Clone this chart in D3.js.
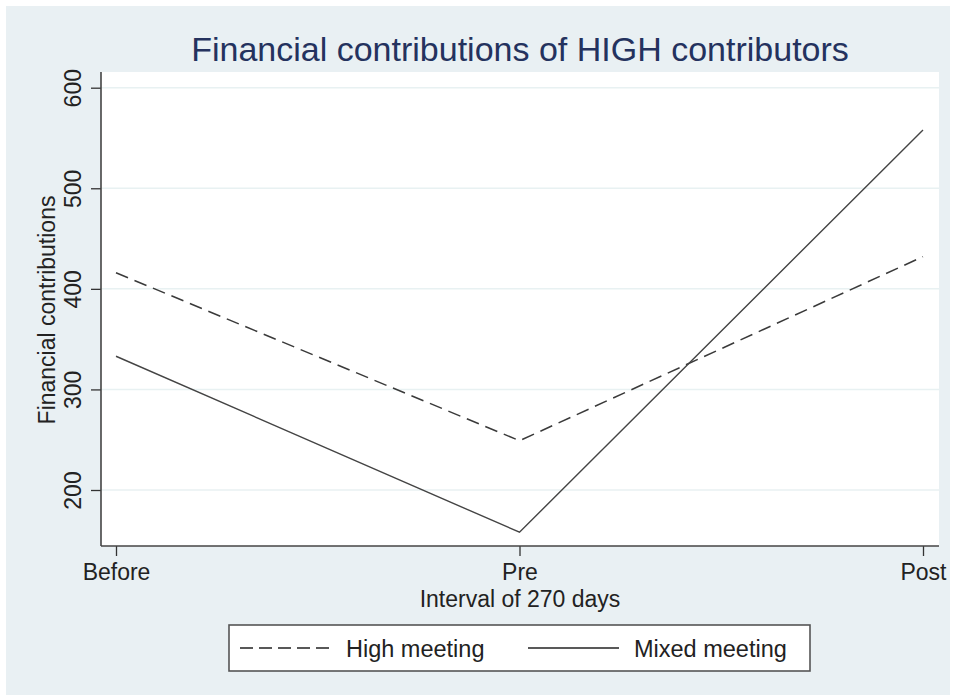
<!DOCTYPE html>
<html>
<head>
<meta charset="utf-8">
<script src="https://cdn.jsdelivr.net/npm/d3@7"></script>
<style>
  body { margin: 0; background: #fff; }
  text { font-family: "Liberation Sans", Arial, sans-serif; }
</style>
</head>
<body>
<div id="chart"></div>
<script>
// data
let periods = ["Before", "Pre", "Post"];
let highMeeting = [416, 249, 432];
let mixedMeeting = [333, 158, 558];
let yTicks = [200, 300, 400, 500, 600];

let W = 957, H = 697;
let svg = d3.select("#chart").append("svg")
  .attr("width", W).attr("height", H);

// outer background
svg.append("rect")
  .attr("x", 6).attr("y", 6).attr("width", 944).attr("height", 689)
  .attr("fill", "#e9f0f3");

// plot area
let plotLeft = 101, plotRight = 939, plotTop = 72, plotBottom = 546;
svg.append("rect")
  .attr("x", plotLeft).attr("y", plotTop)
  .attr("width", plotRight - plotLeft).attr("height", plotBottom - plotTop)
  .attr("fill", "#fff");

let xScale = d3.scalePoint().domain(periods).range([116, 923]);
let yScale = d3.scaleLinear().domain([200, 600]).range([490, 87.7]);

// gridlines
svg.append("g")
  .selectAll("line")
  .data(yTicks)
  .enter()
  .append("line")
  .attr("x1", plotLeft).attr("x2", plotRight)
  .attr("y1", d => yScale(d)).attr("y2", d => yScale(d))
  .attr("stroke", "#e8f1f2").attr("stroke-width", 1.5);

// y axis, labels rotated like the original
let yAxis = d3.axisLeft(yScale).tickValues(yTicks).tickSize(10);
let gy = svg.append("g").attr("transform", `translate(${plotLeft},0)`).call(yAxis);
gy.select(".domain").remove();
gy.selectAll(".tick line").attr("stroke", "#333").attr("stroke-width", 1.3);
gy.selectAll(".tick text")
  .attr("font-size", 23).attr("fill", "#222")
  .attr("transform", "rotate(-90)")
  .attr("x", 0).attr("y", -20).attr("dy", 0)
  .attr("text-anchor", "middle");

svg.append("line")
  .attr("x1", plotLeft).attr("x2", plotLeft).attr("y1", plotTop).attr("y2", plotBottom)
  .attr("stroke", "#444").attr("stroke-width", 1.6);

// x axis
let xAxis = d3.axisBottom(xScale).tickSize(10).tickPadding(6);
let gx = svg.append("g").attr("transform", `translate(0,${plotBottom})`).call(xAxis);
gx.select(".domain").remove();
gx.selectAll(".tick line").attr("stroke", "#333").attr("stroke-width", 1.3);
gx.selectAll(".tick text").attr("font-size", 23).attr("fill", "#222")
  .attr("dy", 0).attr("y", 34);

svg.append("line")
  .attr("x1", plotLeft).attr("x2", plotRight).attr("y1", plotBottom).attr("y2", plotBottom)
  .attr("stroke", "#444").attr("stroke-width", 1.6);

// lines
let line = d3.line()
  .x((d, i) => xScale(periods[i]))
  .y(d => yScale(d));

svg.append("path")
  .datum(highMeeting)
  .attr("d", line)
  .attr("fill", "none")
  .attr("stroke", "#3a3a3a").attr("stroke-width", 1.5)
  .attr("stroke-dasharray", "13,7");

svg.append("path")
  .datum(mixedMeeting)
  .attr("d", line)
  .attr("fill", "none")
  .attr("stroke", "#444").attr("stroke-width", 1.4);

// title and axis labels
svg.append("text")
  .attr("x", 520).attr("y", 61)
  .attr("text-anchor", "middle")
  .attr("font-size", 34).attr("fill", "#24325e")
  .text("Financial contributions of HIGH contributors");

svg.append("text")
  .attr("transform", "translate(55,310) rotate(-90)")
  .attr("text-anchor", "middle")
  .attr("font-size", 23).attr("fill", "#222")
  .text("Financial contributions");

svg.append("text")
  .attr("x", 520).attr("y", 607)
  .attr("text-anchor", "middle")
  .attr("font-size", 23).attr("fill", "#222")
  .text("Interval of 270 days");

// legend
svg.append("rect")
  .attr("x", 229).attr("y", 625).attr("width", 581).attr("height", 46)
  .attr("fill", "#fff").attr("stroke", "#555").attr("stroke-width", 1.6);

let legendItems = [
  { name: "High meeting", dash: "13,6", x1: 240, x2: 334, tx: 346 },
  { name: "Mixed meeting", dash: null, x1: 528, x2: 619, tx: 634 }
];
let lg = svg.append("g").selectAll("g").data(legendItems).enter().append("g");
lg.append("line")
  .attr("x1", d => d.x1).attr("x2", d => d.x2)
  .attr("y1", 648).attr("y2", 648)
  .attr("stroke", "#222").attr("stroke-width", 1.6)
  .attr("stroke-dasharray", d => d.dash);
lg.append("text")
  .attr("x", d => d.tx).attr("y", 657)
  .attr("font-size", 23.5).attr("fill", "#222")
  .text(d => d.name);
</script>
</body>
</html>
